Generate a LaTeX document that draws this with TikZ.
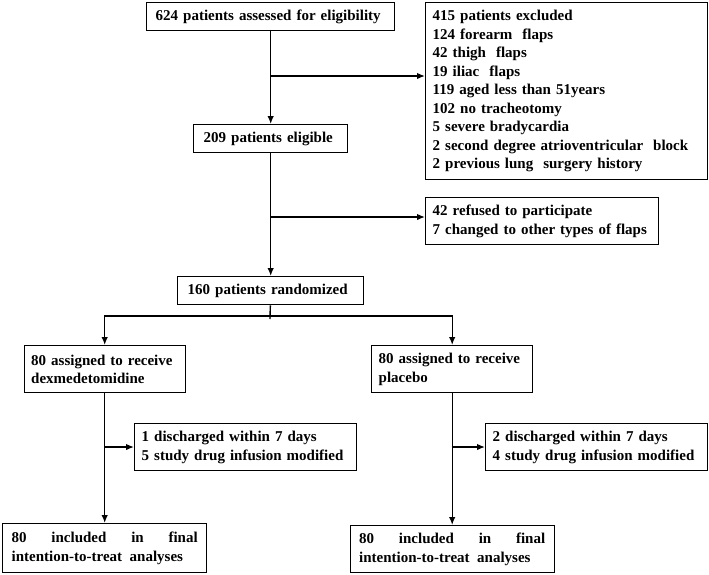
\documentclass[tikz,border=0pt]{standalone}
\usepackage{fontspec}
\setmainfont{Liberation Serif}
\usepackage{tikz}
\usetikzlibrary{arrows.meta,calc}
\hyphenpenalty=10000
\exhyphenpenalty=10000

\begin{document}
\begin{tikzpicture}[x=1pt,y=-1pt]
  \tikzset{box/.style = {draw, line width=1.4pt, anchor=north west, inner xsep=7pt, inner ysep=0pt,
      align=left, font=\bfseries\fontsize{15}{18.5}\selectfont}}
  \tikzset{every path/.style = {line width=1.4pt, >={Latex[length=8pt,width=6.5pt]}}}

\useasboundingbox (0,0) rectangle (709,574);

\node[box, text width=234, minimum height=28.5] (assess)  at (146,1.5) {\hspace*{2pt}624 patients assessed for eligibility};
\node[box, text width=268, minimum height=177] (excl)  at (425,2) {415 patients excluded\\124 forearm~ flaps\\42 thigh~ flaps\\19 iliac~ flaps\\119 aged less than 51years\\102 no tracheotomy\\5 severe bradycardia\\2 second degree atrioventricular~ block\\2 previous lung~ surgery history};
\node[box, text width=140, minimum height=28] (elig)  at (193,124) {\hspace*{3pt}209 patients eligible};
\node[box, text width=219, minimum height=47] (refus)  at (425,197) {42 refused to participate\\7 changed to other types of flaps};
\node[box, text width=172, minimum height=28] (rand)  at (177,276) {\hspace*{3pt}160 patients randomized};
\node[box, text width=147, minimum height=47] (dex)  at (23.5,345) {80 assigned to receive\\dexmedetomidine};
\node[box, text width=147, minimum height=47] (plac)  at (371,345) {80 assigned to receive\\placebo};
\node[box, text width=208, minimum height=47] (lossd)  at (134,423) {1 discharged within 7 days\\5 study drug infusion modified};
\node[box, text width=208, minimum height=47] (lossp)  at (485,423) {2 discharged within 7 days\\4 study drug infusion modified};
\node[box, text width=186, minimum height=49, inner xsep=9pt, align=justify] (fdex)  at (2,523) {80 included in final\linebreak intention-to-treat~ analyses};
\node[box, text width=186, minimum height=47, inner xsep=9pt, align=justify] (fplac)  at (349.5,525) {80 included in final\linebreak intention-to-treat~ analyses};

\coordinate (j1) at (270,76);
\coordinate (j2) at (270,217);
\coordinate (j3) at (270,316);
\coordinate (jd) at (104,447);
\coordinate (jp) at (451.5,447);

    \path[->](assess) edge (elig);
    \path[->](j1) edge (j1 -| excl.west);
    \path[->](elig) edge (rand);
    \path[->](j2) edge (j2 -| refus.west);

    \draw (rand) -- ($(j3)+(0,3)$);
    \draw[->] (j3) -| (dex);
    \draw[->] (j3) -| (plac);

    \path[->](dex) edge (fdex);
    \path[->](jd) edge (jd -| lossd.west);
    \path[->](plac) edge (fplac);
    \path[->](jp) edge (jp -| lossp.west);

\end{tikzpicture}
\end{document}
